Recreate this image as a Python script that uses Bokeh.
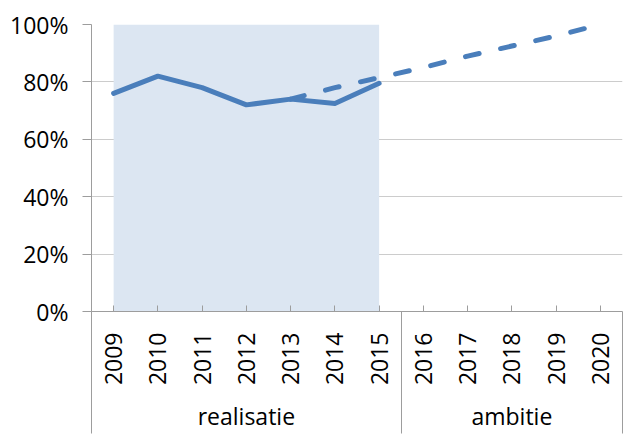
import math
from bokeh.plotting import figure
from bokeh.models import LinearAxis, FixedTicker, Range1d, PrintfTickFormatter
from bokeh.embed import file_html
from bokeh.resources import INLINE

# ---- data ----
years = [2009, 2010, 2011, 2012, 2013, 2014, 2015, 2016, 2017, 2018, 2019, 2020]
real_years = [2009, 2010, 2011, 2012, 2013, 2014, 2015]
real_values = [76, 82, 78, 72, 74, 72.5, 79.5]
amb_years = [2013, 2014, 2015, 2016, 2017, 2018, 2019, 2020]
amb_values = [74, 78, 81.5, 85, 89, 92.5, 96, 100]
groups = ["realisatie", "ambitie"]
group_years = [[2009, 2010, 2011, 2012, 2013, 2014, 2015], [2016, 2017, 2018, 2019, 2020]]
y_ticks = [0, 20, 40, 60, 80, 100]

BLUE = "#4a7ebb"
SHADE = "#dce6f2"
GRID = "#cccccc"
AXIS = "#9d9d9d"
FONT = "Open Sans"

x_lo = years[0] - 0.5
x_hi = years[-1] + 0.5

p = figure(width=623, height=434,
           x_range=Range1d(x_lo, x_hi), y_range=Range1d(y_ticks[0], y_ticks[-1]),
           output_backend="svg", toolbar_location=None, x_axis_location=None,
           min_border_left=91, min_border_right=1, min_border_top=24, min_border_bottom=122)
p.outline_line_color = None
p.background_fill_color = "white"
p.border_fill_color = "white"

# grid
p.xgrid.visible = False
p.ygrid.ticker = FixedTicker(ticks=y_ticks)
p.ygrid.grid_line_color = GRID
p.ygrid.grid_line_width = 1

# y axis
ya = p.yaxis[0]
ya.ticker = FixedTicker(ticks=y_ticks)
ya.formatter = PrintfTickFormatter(format="%d%%")
ya.axis_line_color = AXIS
ya.major_tick_line_color = AXIS
ya.major_tick_out = 9
ya.major_tick_in = 0
ya.minor_tick_line_color = None
ya.major_label_standoff = 14
ya.major_label_text_font = FONT
ya.major_label_text_font_size = "23px"
ya.major_label_text_color = "#000000"

# group boundaries
bounds = [group_years[0][0] - 0.5] + [g[-1] + 0.5 for g in group_years]

# year axis (minor ticks act as group separators)
SEP = 122
xa = LinearAxis(ticker=FixedTicker(ticks=years, minor_ticks=bounds),
                formatter=PrintfTickFormatter(format="%d"))
xa.major_label_orientation = math.pi / 2
xa.axis_line_color = AXIS
xa.major_tick_line_color = AXIS
xa.major_tick_in = 6
xa.major_tick_out = 0
xa.minor_tick_line_color = AXIS
xa.minor_tick_in = 0
xa.minor_tick_out = SEP
xa.major_label_standoff = 21 - SEP
xa.major_label_text_font = FONT
xa.major_label_text_font_size = "23px"
xa.major_label_text_color = "#000000"
p.add_layout(xa, "below")

# group label axis
centers = [sum(g) / len(g) for g in group_years]
ga = LinearAxis(ticker=FixedTicker(ticks=centers),
                major_label_overrides={c: g for c, g in zip(centers, groups)})
ga.axis_line_color = None
ga.major_tick_line_color = None
ga.major_tick_out = 0
ga.major_tick_in = 0
ga.minor_tick_line_color = None
ga.minor_tick_out = 0
ga.minor_tick_in = 0
ga.major_label_standoff = 11
ga.major_label_text_font = FONT
ga.major_label_text_font_size = "23px"
ga.major_label_text_color = "#000000"
p.add_layout(ga, "below")

# shaded realisation period
p.quad(left=real_years[0], right=real_years[-1], bottom=y_ticks[0], top=y_ticks[-1],
       fill_color=SHADE, line_color=None)

# ambition dashed line
p.line(amb_years, amb_values, line_color=BLUE, line_width=5, line_dash="14 22",
       line_cap="round", line_join="round")
# realisation solid line
p.line(real_years, real_values, line_color=BLUE, line_width=5,
       line_cap="round", line_join="round")

open("out.html", "w").write(file_html(p, INLINE))
